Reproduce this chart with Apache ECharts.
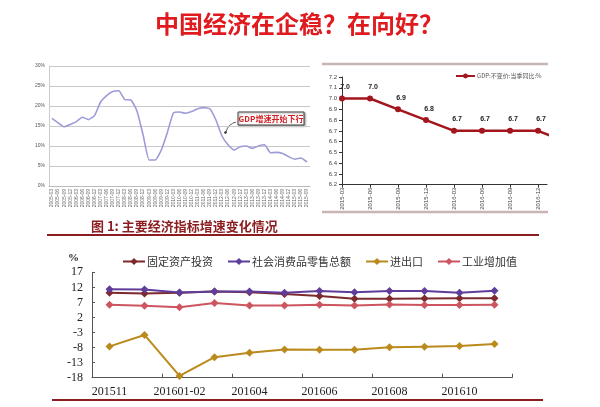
<!DOCTYPE html>
<html><head><meta charset="utf-8">
<script src="https://cdn.jsdelivr.net/npm/echarts@6/dist/echarts.min.js"></script>
<style>html,body{margin:0;padding:0;background:#fff}#c{width:600px;height:407px}</style>
</head><body><div id="c"></div>
<script>
// Left chart: nominal GDP growth, quarterly
const nominalQuarters = [
  '2005-03','2005-06','2005-09','2005-12','2006-03','2006-06','2006-09','2006-12',
  '2007-03','2007-06','2007-09','2007-12','2008-03','2008-06','2008-09','2008-12',
  '2009-03','2009-06','2009-09','2009-12','2010-03','2010-06','2010-09','2010-12',
  '2011-03','2011-06','2011-09','2011-12','2012-03','2012-06','2012-09','2012-12',
  '2013-03','2013-06','2013-09','2013-12','2014-03','2014-06','2014-09','2014-12',
  '2015-03','2015-06','2015-09'];
const nominalGdp = [16.9,15.8,14.8,15.4,16.1,17.2,16.6,17.6,21.0,22.6,23.6,23.8,21.6,21.5,18.7,12.8,
  6.5,6.5,9.0,13.4,18.3,18.5,18.2,18.6,19.3,19.6,19.3,16.5,12.5,10.3,9.0,9.8,
  10.0,9.4,10.0,10.3,8.3,8.4,8.1,7.3,6.7,7.0,6.0];
const nominalTicks = [0,30,5];

// Right chart: real GDP growth
const gdpQuarters = ['2015-03','2015-06','2015-09','2015-12','2016-03','2016-06','2016-09','2016-12','2017-03'];
const gdpReal = [7.0,7.0,6.9,6.8,6.7,6.7,6.7,6.7,6.6];
const gdpName = 'GDP:不变价:当季同比:%';

// Bottom chart
const months = ['201511','201512','201601-02','201603','201604','201605','201606','201607','201608','201609','201610','201611'];
const fai      = [10.2,10.0,10.2,10.6,10.4,9.8,9.1,8.2,8.2,8.3,8.4,8.4];
const retail   = [11.4,11.3,10.3,10.6,10.6,10.2,10.8,10.4,10.8,10.8,10.2,10.9];
const trade    = [-7.6,-3.8,-17.4,-11.2,-9.7,-8.6,-8.7,-8.7,-7.9,-7.7,-7.5,-6.8];
const industry = [6.2,5.9,5.4,6.8,6.0,6.0,6.2,6.0,6.3,6.1,6.1,6.2];
const bottomNames = ['固定资产投资','社会消费品零售总额','进出口','工业增加值'];

const CJK = '"Noto Sans CJK SC", sans-serif';
const SERIF = '"Liberation Serif", "Noto Sans CJK SC", serif';
const chart = echarts.init(document.getElementById('c'), null, {renderer:'canvas'});

const bottomColors = ['#7d2a2e','#5f3d9b','#bb8a1c','#cc5560'];
const bottomData = [fai, retail, trade, industry];

chart.setOption({
  animation:false,
  backgroundColor:'#fff',
  title:[
    {text:'中国经济在企稳？在向好？', left:150, top:7,
     textStyle:{color:'#e01b1f', fontSize:24, fontWeight:'bold', fontFamily:CJK}},
    {text:'图 1: 主要经济指标增速变化情况', left:86, top:215,
     textStyle:{color:'#8b1c1f', fontSize:13, fontWeight:'bold', fontFamily:CJK}}
  ],
  legend:[
    {data:[gdpName], left:450, top:68, itemWidth:19, itemHeight:6, itemGap:2,
     textStyle:{fontSize:6, color:'#555', fontFamily:CJK, padding:[0,0,0,-3]}},
    {data:bottomNames, left:117, top:251, itemWidth:22, itemHeight:9, itemGap:14,
     textStyle:{fontSize:11, color:'#333', fontFamily:CJK, padding:[0,0,0,-3]}}
  ],
  grid:[
    {left:49, top:66, width:261, height:120},
    {left:342, top:77, width:205, height:107.7},
    {left:92, top:272.3, width:420, height:105.4}
  ],
  xAxis:[
    {gridIndex:0, type:'category', data:nominalQuarters, boundaryGap:true,
     axisLine:{show:true, lineStyle:{color:'#bbb'}}, axisTick:{show:false},
     axisLabel:{interval:0, rotate:90, fontSize:5, color:'#666', margin:3}},
    {gridIndex:1, type:'value', min:0, max:7.32, interval:1, splitLine:{show:false},
     axisLine:{show:true, onZero:false, lineStyle:{color:'#333', width:1}},
     axisTick:{show:true, length:3, lineStyle:{color:'#333'}},
     axisLabel:{rotate:90, fontSize:6, color:'#444', margin:3, showMaxLabel:false,
       formatter:v => (Number.isInteger(v) && v < 8) ? gdpQuarters[v] : ''}},
    {gridIndex:2, type:'category', data:months, boundaryGap:true,
     axisLine:{show:true, onZero:false, lineStyle:{color:'#555'}},
     axisTick:{show:true, inside:true, length:4, lineStyle:{color:'#555'}},
     axisLabel:{interval:1, fontSize:12, color:'#222', fontFamily:SERIF, margin:8}}
  ],
  yAxis:[
    {gridIndex:0, type:'value', min:nominalTicks[0], max:nominalTicks[1], interval:nominalTicks[2],
     axisLine:{show:true, lineStyle:{color:'#ccc'}}, axisTick:{show:false},
     splitLine:{lineStyle:{color:'#c8c8c8', width:1}},
     axisLabel:{formatter:'{value}%', fontSize:5, color:'#555', margin:4}},
    {gridIndex:1, type:'value', min:6.2, max:7.2, interval:0.1, splitLine:{show:false},
     axisLine:{show:true, lineStyle:{color:'#333', width:1}},
     axisTick:{show:true, length:3, lineStyle:{color:'#333'}},
     axisLabel:{fontSize:6, color:'#444', margin:5, formatter:v => v.toFixed(1)}},
    {gridIndex:2, type:'value', min:-18, max:17, interval:5, splitLine:{show:false},
     name:'%', nameLocation:'end', nameGap:9,
     nameTextStyle:{align:'right', padding:[0,13,0,0], fontSize:11, fontWeight:'bold', color:'#222', fontFamily:SERIF},
     axisLine:{show:true, lineStyle:{color:'#555'}},
     axisTick:{show:true, inside:true, length:3, lineStyle:{color:'#555'}},
     axisLabel:{fontSize:12, color:'#222', fontFamily:SERIF, margin:9}}
  ],
  series:[
    {type:'line', xAxisIndex:0, yAxisIndex:0, data:nominalGdp, showSymbol:false, smooth:0.15,
     lineStyle:{color:'#9d9bd8', width:1.6}, itemStyle:{color:'#9d9bd8'}},
    {type:'line', name:gdpName, xAxisIndex:1, yAxisIndex:1, clip:true,
     data:gdpReal.map((v,i)=>[i,v]), symbol:'circle', symbolSize:6,
     lineStyle:{color:'#a3161d', width:2.5}, itemStyle:{color:'#a3161d'},
     label:{show:true, position:'top', distance:5, offset:[3,0], fontSize:7, fontWeight:'bold', color:'#222',
       formatter:p => p.data[1].toFixed(1)}}
  ].concat(bottomNames.map((n,k)=>({
     type:'line', name:n, xAxisIndex:2, yAxisIndex:2, data:bottomData[k],
     symbol:'diamond', symbolSize:8, lineStyle:{color:bottomColors[k], width:2},
     itemStyle:{color:bottomColors[k]}
  }))),
  graphic:[
    {type:'line', shape:{x1:322, y1:64, x2:548, y2:64}, style:{stroke:'#c9b5b6', lineWidth:2.5}},
    {type:'line', shape:{x1:322, y1:212, x2:548, y2:212}, style:{stroke:'#c9b5b6', lineWidth:2.5}},
    {type:'line', shape:{x1:47, y1:235, x2:539, y2:235}, style:{stroke:'#8b1c1f', lineWidth:2}},
    {type:'line', shape:{x1:52, y1:400, x2:543, y2:400}, style:{stroke:'#8b1c1f', lineWidth:2}},
    {type:'rect', shape:{x:238, y:112, width:66, height:13},
     style:{fill:'#fff', stroke:'#444', lineWidth:1, shadowBlur:2, shadowColor:'rgba(0,0,0,0.4)', shadowOffsetX:1, shadowOffsetY:1}},
    {type:'text', x:271, y:118.5, style:{text:'GDP增速开始下行', fill:'#d11f24', fontSize:8, fontWeight:'bold',
     fontFamily:CJK, align:'center', verticalAlign:'middle'}},
    {type:'bezierCurve', shape:{x1:236, y1:122, cpx1:228, cpy1:124, x2:226, y2:132},
     style:{stroke:'#333', lineWidth:0.8, fill:null}},
    {type:'circle', shape:{cx:225.5, cy:132.5, r:1.2}, style:{fill:'#222'}}
  ]
});
</script></body></html>
